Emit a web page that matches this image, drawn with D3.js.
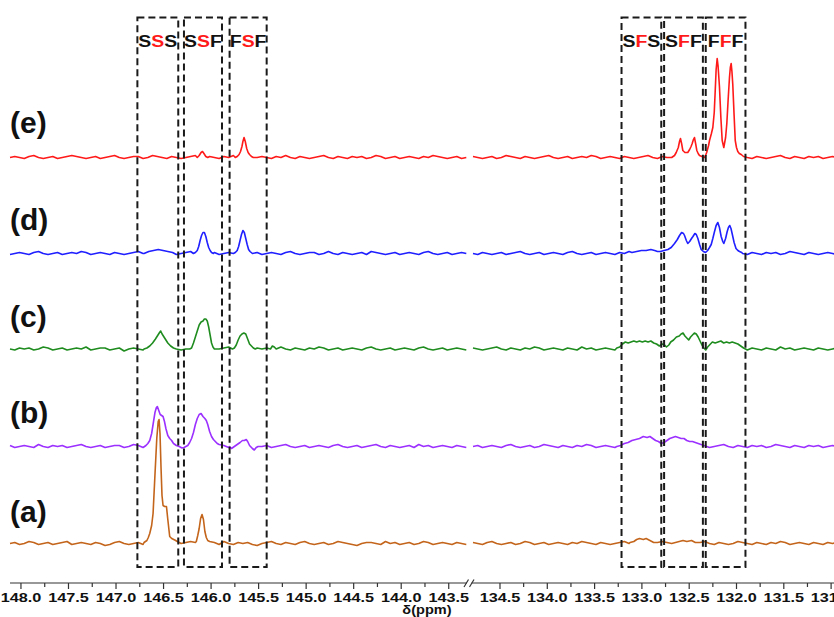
<!DOCTYPE html>
<html><head><meta charset="utf-8">
<script src="https://cdn.jsdelivr.net/npm/d3@7"></script>
<style>body{margin:0;background:#fff;}svg{display:block;}</style>
</head><body>
<svg id="chart" width="834" height="617"></svg>
<script>
// ---------------- DATA ----------------
const seriesLabels = ["(a)", "(b)", "(c)", "(d)", "(e)"];
const seriesColors = ["#c4651c", "#9b30ff", "#1f8c1f", "#1f1fff", "#ff1a1a"];

// noise grids: ppm = start - i*step
const gridStep = 0.05;
const leftStart = 148.11;
const rightStart = 134.78;

const noiseA_L = [0,1,-1,0,2,1,-1,0,1,-1, 0,1,2,-1,0,1,0,-1,1,0, -2,-1,1,2,0,-1,0,1,-1,2, 1,0,-1,1,0,-2,0,1,2,1,
  -1,0,0,1,-1,2,0,-1,1,0, 1,-1,-2,0,1,2,0,-1,1,0, -1,1,2,0,-1,0,1,-1,0,2, 1,0,-1,-2,0,1,1,0,-1,2,
  0,1,-1,0,1,-1,0,2,1,-1, 0,1,0,-1,1,0,-1];
const noiseA_R = [1,0,-1,1,2,0,-1,0,1,-1, 0,2,1,-1,0,1,-1,0,1,0, -1,1,0,2,1,0,-1,1,0,-1, 0,1,2,0,-1,0,1,0,-1,1,
  2,1,0,-1,0,1,-1,0,1,2, 0,-1,1,0,-1,0,2,1,0,-1, 1,0,-1,1,0,2,1,-1,0,1, 0,-1,1,0,-1,1,0,1];
const noiseB_L = [1,-1,0,1,0,-1,2,0,-1,1, 0,1,-1,0,1,2,0,-1,0,1, -1,0,1,1,-1,0,2,1,-1,0, 1,0,-1,1,2,0,-1,0,1,-1,
  0,1,0,-2,0,1,-1,0,1,0, 2,1,-1,0,1,-1,0,1,2,0, -1,0,1,-1,0,1,0,-1,1,2, 0,-1,0,1,-1,0,1,2,0,-1,
  1,0,-1,0,1,-1,2,0,1,-1, 0,1,0,-1,1,0,-1];
const noiseB_R = [0,1,-1,0,1,0,-1,1,2,0, -1,0,1,-1,0,2,1,0,-1,1, 0,-1,1,0,2,1,-1,0,1,0, -1,1,0,-1,0,1,2,0,-1,0,
  1,0,-1,1,0,2,0,-1,1,0, -1,0,1,2,0,-1,1,0,-1,1, 0,1,-1,0,2,1,0,-1,1,0, -1,1,0,1,-1,0,1,0];
const noiseC_L = [0,-1,1,0,1,-1,0,2,1,-1, 0,1,-1,0,1,0,2,-1,0,1, 1,-1,0,1,-2,0,1,0,-1,1, 2,0,-1,0,1,1,-1,0,2,0,
  -1,1,0,-1,0,1,2,0,-1,1, 0,-1,1,0,1,-1,0,2,0,-1, 1,0,-1,1,0,2,1,-1,0,1, -1,0,1,0,-1,1,2,0,-1,0,
  1,-1,0,1,0,-1,1,2,0,-1, 0,1,-1,0,1,0,-1];
const noiseC_R = [1,0,-1,0,1,2,0,-1,1,0, -1,1,0,2,1,-1,0,1,0,-1, 1,0,-1,2,0,1,-1,0,1,0, -1,0,1,2,0,-1,1,0,-1,1,
  0,2,1,-1,0,1,0,-1,1,0, -1,1,0,-1,0,1,2,0,-1,1, 0,-1,1,0,-1,2,0,1,-1,0, 1,0,-1,1,0,-1,0,1];
const noiseD_L = [-1,0,1,0,-1,1,2,0,-1,0, 1,-1,0,1,0,2,1,-1,0,1, 0,-1,1,0,-1,0,1,2,0,-1, 1,0,-1,1,0,-1,0,1,2,1,
  0,-1,0,1,-1,0,1,0,2,1, -1,0,1,-1,0,1,0,-1,1,2, 0,-1,0,1,1,-1,0,2,0,-1, 1,0,-1,0,1,-1,2,1,0,-1,
  0,1,-1,0,1,0,-1,1,2,0, -1,0,1,-1,0,1,0];
const noiseD_R = [0,-1,1,0,-1,0,1,-1,0,1, 2,0,-1,0,1,-1,0,1,0,-1, 1,2,0,-1,0,1,-1,0,1,0, -1,1,0,2,1,-1,0,1,0,-1,
  0,1,-1,0,2,1,0,-1,1,0, -1,0,1,2,0,-1,1,0,-1,1, 0,-1,1,0,1,-1,0,2,1,0, -1,1,0,-1,0,1,0,-1];
const noiseE_L = [0,1,0,-1,1,2,0,-1,0,1, -1,0,1,2,1,0,-1,0,1,-1, 0,1,2,0,-1,0,1,1,-1,0, 2,1,0,-1,1,0,-1,0,1,2,
  0,-1,1,0,-1,1,0,2,1,0, -1,-2,0,1,0,-1,1,0,2,0, -1,1,0,-1,0,1,2,0,-1,1, 0,-1,1,0,1,-1,0,2,1,-1,
  0,1,-1,0,1,0,-1,1,0,2, 1,0,-1,0,1,-1,0];
const noiseE_R = [1,0,-1,0,1,-1,0,2,1,0, -1,1,0,-1,0,1,2,0,-1,0, 1,-1,0,1,0,2,1,-1,0,1, 0,-1,1,0,-1,0,1,2,0,-1,
  1,0,-1,1,0,-1,0,1,2,1, 0,-1,0,1,-1,0,2,1,0,-1, 1,0,-1,0,1,2,0,-1,1,0, -1,1,0,1,-1,0,1,0];

// peak segments [ppm, intensity]
const peaksA_L = [
  [[146.70,1],[146.67,3],[146.655,6],[146.64,10],[146.62,18],[146.605,30],[146.587,65],[146.566,105],[146.551,122],[146.542,124],[146.532,110],[146.521,75],[146.511,48],[146.50,38],[146.483,37],[146.464,37],[146.451,25],[146.43,7],[146.409,5],[146.377,3.5],[146.35,2]],
  [[146.15,2],[146.135,8],[146.12,15],[146.105,25],[146.09,29],[146.075,24],[146.06,12],[146.045,6],[146.03,3],[146.01,2]]
];
const peaksA_R = [
  [[133.12,1],[133.08,2],[133.05,4],[133.02,5],[132.98,4],[132.95,5],[132.91,3],[132.87,1]],
  [[132.64,1],[132.60,2],[132.56,3],[132.52,2],[132.47,3],[132.43,1]]
];
const peaksB_L = [
  [[146.68,1],[146.66,3],[146.64,6],[146.62,13],[146.60,25],[146.585,34],[146.57,39],[146.56,40],[146.545,36],[146.53,32],[146.515,31],[146.50,30],[146.485,25],[146.47,18],[146.45,11],[146.43,8],[146.41,6],[146.39,3],[146.36,1],[146.33,0],[146.30,-1.5],[146.28,-1]],
  [[146.26,0],[146.24,1],[146.22,4],[146.20,8],[146.18,14],[146.16,22],[146.14,28],[146.12,32],[146.10,33],[146.08,30],[146.06,28],[146.045,26],[146.03,22],[146.01,15],[145.99,10],[145.97,7],[145.95,5],[145.93,3],[145.91,2]],
  [[145.80,0],[145.78,-2],[145.75,0],[145.72,2],[145.69,4],[145.665,6],[145.645,6],[145.625,7],[145.61,5],[145.59,1],[145.56,-2],[145.54,-3.5],[145.52,-1],[145.50,0]]
];
const peaksB_R = [
  [[133.26,0],[133.22,1],[133.18,3],[133.14,4],[133.10,6],[133.06,7],[133.02,8],[132.98,10],[132.94,9],[132.91,10],[132.88,8],[132.85,6],[132.82,5],[132.79,3],[132.76,4],[132.73,6],[132.70,8],[132.67,9],[132.64,10],[132.61,9],[132.58,8],[132.55,8],[132.52,6],[132.49,5],[132.46,5],[132.43,4],[132.40,3],[132.37,2],[132.34,1],[132.31,0]]
];
const peaksC_L = [
  [[146.70,0],[146.67,1],[146.64,3],[146.61,6],[146.58,10],[146.56,13],[146.54,16],[146.525,18],[146.51,15],[146.49,12],[146.47,9],[146.45,6],[146.42,3],[146.39,1],[146.36,0]],
  [[146.22,0],[146.20,1],[146.18,6],[146.16,12],[146.14,18],[146.12,24],[146.10,27],[146.08,28],[146.065,30],[146.05,30],[146.035,28],[146.02,22],[146.005,14],[145.99,6],[145.975,2],[145.96,0]],
  [[145.77,0],[145.75,1],[145.73,4],[145.71,9],[145.69,13],[145.67,15],[145.65,16],[145.63,15],[145.61,10],[145.59,5],[145.57,3],[145.55,1],[145.53,0]],
  [[145.37,0],[145.35,3],[145.33,2],[145.31,0]]
];
const peaksC_R = [
  [[133.26,1],[133.23,2],[133.20,5],[133.17,7],[133.14,6],[133.11,7],[133.08,8],[133.05,7],[133.02,8],[132.99,7],[132.96,8],[132.93,7],[132.90,8],[132.87,6],[132.84,5],[132.81,3],[132.78,5],[132.755,4],[132.735,2],[132.71,4],[132.69,7],[132.66,9],[132.63,12],[132.60,13],[132.58,15],[132.56,16],[132.54,13],[132.52,11],[132.50,9],[132.48,12],[132.46,14],[132.44,16],[132.42,15],[132.40,12],[132.38,8],[132.36,4],[132.34,1],[132.32,-1],[132.30,2],[132.28,4],[132.25,7],[132.22,6],[132.19,7],[132.16,8],[132.13,6],[132.10,7],[132.07,6],[132.04,7],[132.01,6],[131.98,5],[131.95,3],[131.92,1]]
];
const peaksD_L = [
  [[146.70,0],[146.65,2],[146.60,3],[146.55,4],[146.50,3],[146.45,2],[146.40,1]],
  [[146.18,0],[146.16,1],[146.14,3],[146.125,7],[146.11,13],[146.095,18],[146.08,21],[146.065,21],[146.05,17],[146.035,11],[146.02,6],[146.005,3],[145.99,1],[145.97,0]],
  [[145.76,0],[145.74,1],[145.72,3],[145.705,7],[145.69,13],[145.675,19],[145.66,23],[145.645,21],[145.63,15],[145.615,9],[145.60,4],[145.585,2],[145.56,0]]
];
const peaksD_R = [
  [[133.10,1],[133.05,2],[133.00,3],[132.95,3],[132.90,4],[132.86,3],[132.83,2],[132.80,2],[132.76,3],[132.72,4],[132.685,6],[132.65,10],[132.62,14],[132.597,18],[132.575,21],[132.555,20],[132.544,18],[132.525,13],[132.51,10],[132.49,12],[132.47,15],[132.455,17],[132.435,20],[132.42,19],[132.403,15],[132.385,9],[132.368,4],[132.345,2],[132.322,1],[132.30,3],[132.28,6],[132.262,9],[132.245,15],[132.227,22],[132.21,28],[132.192,31],[132.175,26],[132.157,17],[132.14,12],[132.129,10],[132.11,15],[132.093,22],[132.08,26],[132.066,28],[132.053,25],[132.041,20],[132.02,11],[132.00,5],[131.98,3],[131.963,2],[131.94,1]]
];
const peaksE_L = [
  [[146.14,0],[146.12,2],[146.10,5],[146.085,6],[146.07,4],[146.05,1],[146.03,0]],
  [[145.74,0],[145.72,1],[145.70,3],[145.685,6],[145.67,11],[145.66,16],[145.648,20],[145.635,16],[145.62,9],[145.605,5],[145.59,3],[145.57,1],[145.55,0]]
];
const peaksE_R = [
  [[132.68,0],[132.65,2],[132.632,5],[132.61,10],[132.597,16],[132.587,19],[132.575,14],[132.562,7],[132.54,5],[132.51,5],[132.49,8],[132.475,11],[132.463,14],[132.45,18],[132.439,20],[132.427,14],[132.414,7],[132.40,4],[132.386,2],[132.36,1],[132.33,0],[132.31,5],[132.29,12],[132.28,17],[132.26,24],[132.245,30],[132.23,45],[132.22,66],[132.21,88],[132.199,99],[132.19,92],[132.175,71],[132.16,40],[132.146,17],[132.129,10],[132.11,20],[132.097,34],[132.083,58],[132.069,80],[132.06,90],[132.051,94],[132.043,86],[132.034,73],[132.02,42],[132.008,17],[131.995,10],[131.981,6],[131.965,4],[131.945,3],[131.92,1]]
];

const noiseLeft = [noiseA_L, noiseB_L, noiseC_L, noiseD_L, noiseE_L];
const noiseRight = [noiseA_R, noiseB_R, noiseC_R, noiseD_R, noiseE_R];
const peaksLeft = [peaksA_L, peaksB_L, peaksC_L, peaksD_L, peaksE_L];
const peaksRight = [peaksA_R, peaksB_R, peaksC_R, peaksD_R, peaksE_R];

// tick labels
const majorTicksLeft = [148.0,147.5,147.0,146.5,146.0,145.5,145.0,144.5,144.0,143.5];
const minorTicksLeft = [147.75,147.25,146.75,146.25,145.75,145.25,144.75,144.25,143.75];
const majorTicksRight = [134.5,134.0,133.5,133.0,132.5,132.0,131.5,131.0];
const minorTicksRight = [134.25,133.75,133.25,132.75,132.25,131.75,131.25];
const axisTitle = "δ(ppm)";

// dashed region boxes (ppm range) and their triad labels
const boxLabels = ["SSS","SSF","FSF","SFS","SFF","FFF"];
const boxPanels = ["L","L","L","R","R","R"];
const boxRanges = [[146.77,146.34],[146.28,145.88],[145.80,145.41],[133.21,132.79],[132.76,132.35],[132.32,131.90]];

// ---------------- DRAW ----------------
const svg = d3.select("#chart");
const xLeft = d3.scaleLinear().domain([148.11, 143.31]).range([10, 466.3]);
const xRight = d3.scaleLinear().domain([134.78, 130.98]).range([473, 832.5]);
const yInt = d3.scaleLinear().domain([0, 100]).range([0, -100]);
const baselines = [543.5, 446.5, 349, 253.5, 157.5];
const labelYs = [522, 423, 327, 230, 133];

function buildTrace(start, noise, segments) {
  let pts = noise.map((v, i) => [+(start - i * gridStep).toFixed(3), v]);
  segments.forEach(seg => {
    const hi = d3.max(seg, d => d[0]), lo = d3.min(seg, d => d[0]);
    pts = pts.filter(p => p[0] > hi || p[0] < lo);
  });
  segments.forEach(seg => { pts = pts.concat(seg); });
  pts.sort((a, b) => b[0] - a[0]);
  return pts;
}

const traces = svg.append("g");
seriesLabels.forEach((lab, i) => {
  const base = baselines[i];
  [[xLeft, leftStart, noiseLeft[i], peaksLeft[i]], [xRight, rightStart, noiseRight[i], peaksRight[i]]].forEach(([xs, st, nz, pk]) => {
    const pts = buildTrace(st, nz, pk);
    const line = d3.line().x(d => xs(d[0])).y(d => base + yInt(d[1]));
    traces.append("path").datum(pts)
      .attr("d", line)
      .attr("fill", "none")
      .attr("stroke", seriesColors[i])
      .attr("stroke-width", 1.6)
      .attr("stroke-linejoin", "round");
  });
  svg.append("text").attr("x", 10).attr("y", labelYs[i])
    .attr("font-family", "Liberation Sans, Arial, sans-serif")
    .attr("font-weight", "bold").attr("font-size", 30).attr("fill", "#111")
    .text(lab);
});

// boxes
const boxTop = 17.5, boxBottom = 567;
boxLabels.forEach((lab, i) => {
  const xs = boxPanels[i] === "L" ? xLeft : xRight;
  const x0 = xs(boxRanges[i][0]), x1 = xs(boxRanges[i][1]);
  svg.append("rect").attr("x", x0).attr("y", boxTop)
    .attr("width", x1 - x0).attr("height", boxBottom - boxTop)
    .attr("fill", "none").attr("stroke", "#1a1a1a")
    .attr("stroke-width", 2).attr("stroke-dasharray", "7,4");
  const t = svg.append("text")
    .attr("transform", `translate(${(x0 + x1) / 2},47) scale(1.18,1)`)
    .attr("text-anchor", "middle")
    .attr("font-family", "Liberation Sans, Arial, sans-serif")
    .attr("font-weight", "bold").attr("font-size", 16.5);
  lab.split("").forEach((ch, k) => {
    t.append("tspan").attr("fill", k === 1 ? "#ff1a1a" : "#111").text(ch);
  });
});

// axis
const axisY = 583;
const axG = svg.append("g").attr("transform", `translate(0,${axisY})`);
function drawAxis(xs, majors, minors) {
  const gM = axG.append("g").call(d3.axisBottom(xs).tickValues(majors).tickSize(6).tickPadding(4).tickFormat(d3.format(".1f")));
  const gm = axG.append("g").call(d3.axisBottom(xs).tickValues(minors).tickSize(4).tickFormat(""));
  [gM, gm].forEach(g => {
    g.select(".domain").remove();
    g.selectAll("line").attr("stroke", "#333").attr("stroke-width", 1.2);
  });
  gM.selectAll("text")
    .attr("font-family", "Liberation Sans, Arial, sans-serif")
    .attr("font-weight", "bold").attr("font-size", 12.5).attr("fill", "#111")
    .attr("transform", "scale(1.3,1)");
}
drawAxis(xLeft, majorTicksLeft, minorTicksLeft);
drawAxis(xRight, majorTicksRight, minorTicksRight);
axG.append("line").attr("x1", 10).attr("x2", 467).attr("y1", 0).attr("y2", 0).attr("stroke", "#333").attr("stroke-width", 1.2);
axG.append("line").attr("x1", 471.5).attr("x2", 834).attr("y1", 0).attr("y2", 0).attr("stroke", "#333").attr("stroke-width", 1.2);
axG.append("line").attr("x1", 464).attr("y1", 4).attr("x2", 468.5).attr("y2", -3.5).attr("stroke", "#333").attr("stroke-width", 1.2);
axG.append("line").attr("x1", 469.5).attr("y1", 4).attr("x2", 474).attr("y2", -3.5).attr("stroke", "#333").attr("stroke-width", 1.2);

svg.append("text")
  .attr("transform", "translate(427,614) scale(1.12,1)")
  .attr("text-anchor", "middle")
  .attr("font-family", "Liberation Sans, Arial, sans-serif")
  .attr("font-weight", "bold").attr("font-size", 13).attr("fill", "#111")
  .text(axisTitle);
</script>
</body></html>
